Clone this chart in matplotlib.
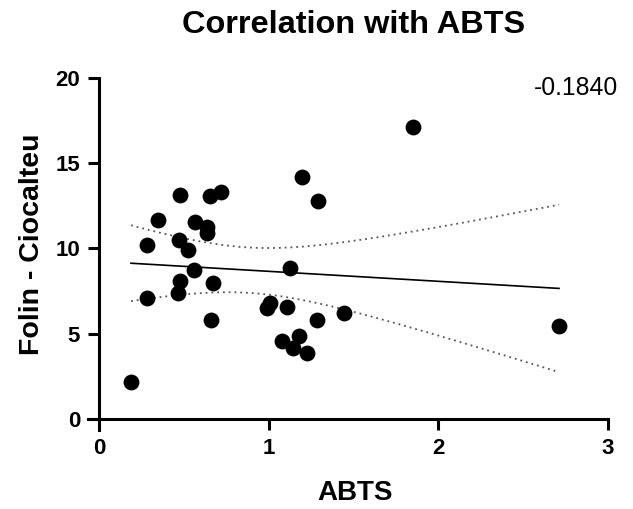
import numpy as np
import matplotlib
matplotlib.use("Agg")
import matplotlib.pyplot as plt

# Data
abts = [0.186, 0.278, 0.278, 0.345, 0.465, 0.477, 0.473, 0.471, 0.524, 0.560,
        0.566, 0.634, 0.634, 0.652, 0.719, 0.671, 0.658,
        0.986, 1.006, 1.104, 1.124, 1.078, 1.179, 1.143, 1.222, 1.281,
        1.196, 1.287, 1.444, 1.848, 2.711]
folin = [2.19, 10.21, 7.08, 11.64, 7.41, 8.09, 13.16, 10.50, 9.91, 8.71,
         11.57, 11.28, 10.89, 13.08, 13.31, 7.96, 5.81,
         6.49, 6.79, 6.55, 8.84, 4.57, 4.89, 4.15, 3.89, 5.81,
         14.21, 12.79, 6.20, 17.14, 5.47]
r_label = "-0.1840"
x_ticks = [0, 1, 2, 3]
y_ticks = [0, 5, 10, 15, 20]
T_CRIT = 2.045  # t(0.975, df=29)

plt.rcParams['font.family'] = ['Liberation Sans', 'DejaVu Sans']

fig = plt.figure(figsize=(6.33, 5.09), dpi=100)
ax = fig.add_axes([0.1384, 0.1552, 0.9605 - 0.1384, 0.8468 - 0.1552])

x = np.array(abts)
y = np.array(folin)
n = len(x)
slope, intercept = np.polyfit(x, y, 1)
xs = np.linspace(x.min(), x.max(), 200)
ys = slope * xs + intercept
resid = y - (slope * x + intercept)
s = np.sqrt(np.sum(resid ** 2) / (n - 2))
sxx = np.sum((x - x.mean()) ** 2)
se = s * np.sqrt(1.0 / n + (xs - x.mean()) ** 2 / sxx)

ax.plot(xs, ys, color='black', lw=1.2, zorder=2)
ax.plot(xs, ys + T_CRIT * se, color='#555555', lw=1.3, ls=(0, (1, 2.2)), zorder=2)
ax.plot(xs, ys - T_CRIT * se, color='#555555', lw=1.3, ls=(0, (1, 2.2)), zorder=2)
ax.scatter(x, y, s=130, color='black', zorder=3, linewidths=0)

ax.set_xlim(-0.07, 3.0)
ax.set_ylim(-0.65, 20)
ax.spines['left'].set_position(('data', 0))
ax.spines['bottom'].set_position(('data', 0))
ax.spines['right'].set_visible(False)
ax.spines['top'].set_visible(False)
for sp in ['left', 'bottom']:
    ax.spines[sp].set_linewidth(2.2)
ax.set_xticks(x_ticks)
ax.set_yticks(y_ticks)
ax.tick_params(axis='both', direction='out', length=8, width=2.2, labelsize=16, pad=6)
for lab in ax.get_xticklabels() + ax.get_yticklabels():
    lab.set_fontweight('bold')

fig.text(354 / 633, 1 - 25 / 509, "Correlation with ABTS", ha='center', va='center',
         fontsize=23.4, fontweight='bold')
fig.text(355 / 633, 1 - 493 / 509, "ABTS", ha='center', va='center',
         fontsize=20, fontweight='bold')
fig.text(32 / 633, 1 - 244 / 509, "Folin - Ciocalteu", ha='center', va='center',
         fontsize=20.5, fontweight='bold', rotation=90)
fig.text(618 / 633, 1 - 88 / 509, r_label, ha='right', va='center', fontsize=17.8)

fig.savefig("out.png", dpi=100)
